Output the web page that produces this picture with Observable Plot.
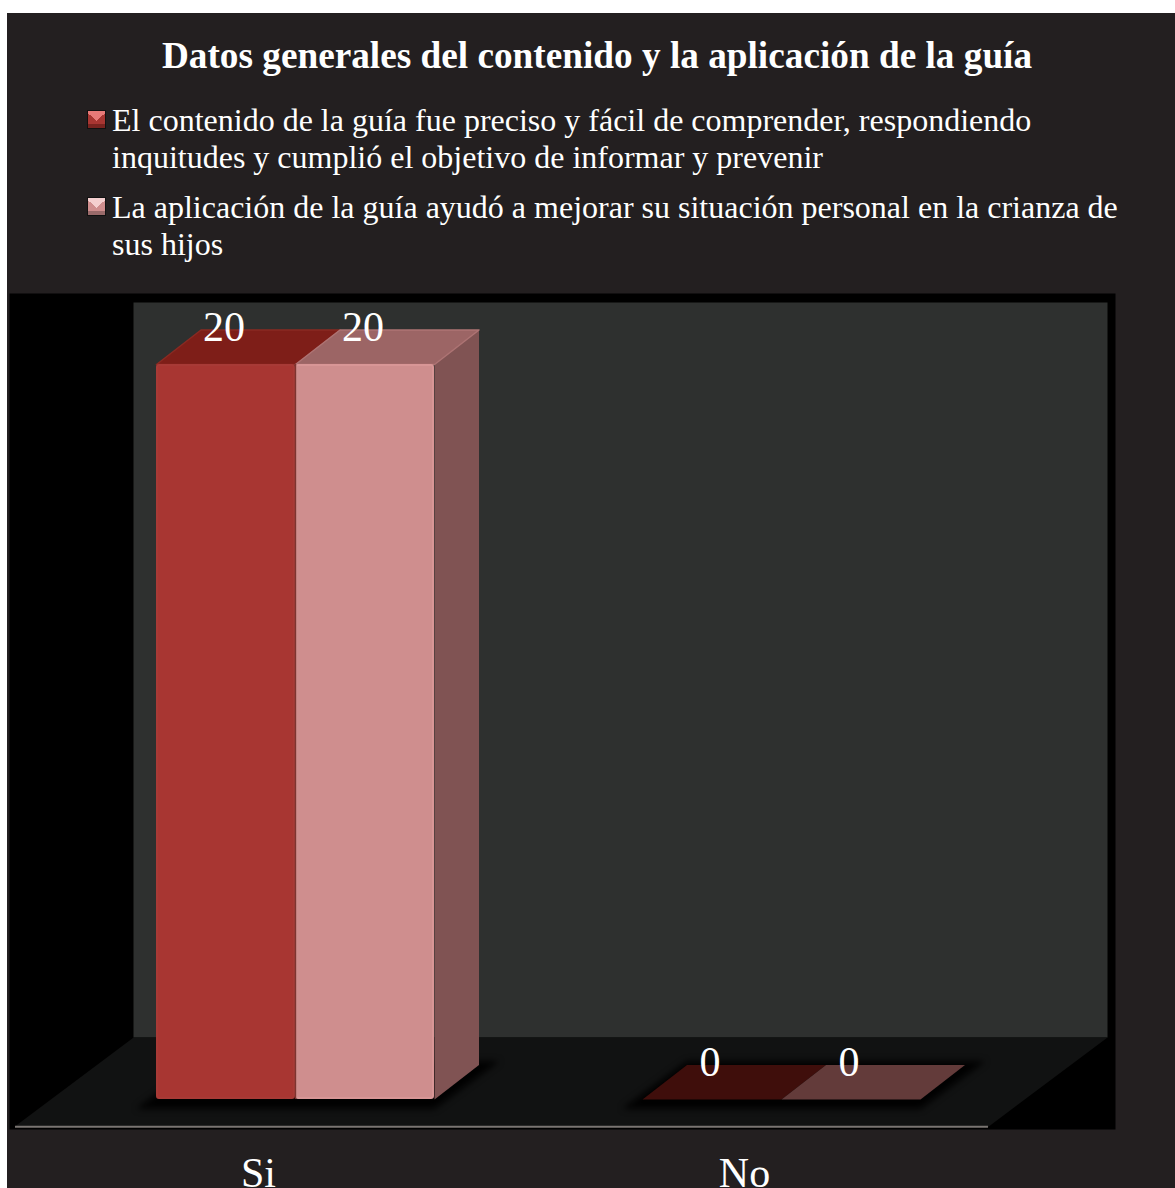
<!DOCTYPE html>
<html lang="es">
<head>
<meta charset="utf-8">
<script src="https://cdn.jsdelivr.net/npm/d3@7"></script>
<script src="https://cdn.jsdelivr.net/npm/@observablehq/plot@0.6"></script>
<style>
html,body{margin:0;padding:0;background:#fff;overflow:hidden;width:1175px;height:1188px}
#panel{position:absolute;left:7px;top:13px;width:1168px;height:1175px;background:#231f20;overflow:hidden;font-family:"Liberation Serif",serif;color:#fff}
#title{position:absolute;left:0;width:1180px;top:20px;text-align:center;font-weight:bold;font-size:37.25px;line-height:46px;white-space:nowrap}
.leg{position:absolute;left:105px;width:1030px;font-size:32px;line-height:37px}
.sw{position:absolute;width:17px;height:17px;left:-25px;top:8px;border:1px solid #111}
#chart{position:absolute;left:0;top:280px}
#chart svg{display:block;overflow:hidden}
</style>
</head>
<body>
<div id="panel">
  <div id="title"></div>
  <div id="legend"></div>
  <div id="chart"></div>
</div>
<script>
const titleText = "Datos generales del contenido y la aplicación de la guía";
const categories = ["Si", "No"];
const seriesNames = [
  "El contenido de la guía fue preciso y fácil de comprender, respondiendo inquitudes y cumplió el objetivo de informar y prevenir",
  "La aplicación de la guía ayudó a mejorar su situación personal en la crianza de sus hijos"
];
const seriesContenido = [20, 0];
const seriesAplicacion = [20, 0];
const seriesValues = [seriesContenido, seriesAplicacion];

const frontColors = ["#a83632", "#cf8e8e"];
const edgeColors = ["#a83a36", "#d89696"];
const topColors = ["#7e1e18", "#9c6565"];
const topEdgeColors = ["#8a2a22", "#ae7474"];
const sideColors = ["#6b1d18", "#805353"];
const plateColors = ["#3f0e0b", "#633b3a"];
const swatchLight = ["#e87a78", "#f4cfcf"];
const swatchDark = ["#7a2420", "#9a6a6a"];

document.getElementById("title").textContent = titleText;
const legendTops = [89, 176];
document.getElementById("legend").innerHTML = seriesNames.map((s, i) => {
  const a = swatchLight[i], b = frontColors[i], c = swatchDark[i];
  return `<div class="leg" style="top:${legendTops[i]}px"><span class="sw" style="background:linear-gradient(transparent 76%,${c} 76%),conic-gradient(from -48deg at 50% 58%,${a} 0 96deg,${b} 96deg 360deg)"></span>${s}</div>`;
}).join("");

// horizontal units: distance between the two category labels = 1
const unitX = 486, unitY = 36.75;
const barW = 139 / unitX, offs = 37 / unitX, depthX = 44.5 / unitX, depthY = 34.5 / unitY;
const rows = categories.flatMap((c, ci) => seriesValues.map((vals, si) => {
  const x1 = ci + offs + (si - 1) * barW;
  return {cat: c, si, v: vals[ci], x1, x2: x1 + barW};
}));
const poly = (id, fill, pts, stroke) => pts.concat([pts[0]]).map(([x, y]) => ({id, fill, stroke, x, y}));
const pad = 20 / unitX;
const shadows = rows.filter(r => r.si === 0).flatMap(r => {
  const right = r.x1 + 2 * barW;
  return poly("s" + r.cat, "#000", [[r.x1 - pad, -0.25], [right, -0.25], [right + depthX + pad, depthY + 0.1], [r.x1 + depthX, depthY + 0.1]]);
});
const lastSeries = seriesValues.length - 1;
const sides = rows.filter(r => r.v > 0 && r.si === lastSeries).flatMap(r => poly("side" + r.cat + r.si, sideColors[r.si],
  [[r.x2, 0], [r.x2 + depthX, depthY], [r.x2 + depthX, r.v + depthY], [r.x2, r.v]]));
const tops = rows.filter(r => r.v > 0).flatMap(r => poly("top" + r.cat + r.si, topColors[r.si],
  [[r.x1, r.v], [r.x2, r.v], [r.x2 + depthX, r.v + depthY], [r.x1 + depthX, r.v + depthY]], topEdgeColors[r.si]));
const plates = rows.filter(r => r.v === 0).flatMap(r => poly("plate" + r.cat + r.si, plateColors[r.si],
  [[r.x1, r.v], [r.x2, r.v], [r.x2 + depthX, r.v + depthY], [r.x1 + depthX, r.v + depthY]]));
const floorBack = 1.69, floorFront = -0.74;
const floor = poly("floor", "#111212", [[-0.257, floorBack], [1.747, floorBack], [1.502, floorFront], [-0.502, floorFront]]);
const bars = rows.filter(r => r.v > 0);
const seams = bars.filter(r => r.si === 0);

const chart = Plot.plot({
  width: 1168, height: 895,
  marginLeft: 2, marginRight: 60, marginTop: 0, marginBottom: 59,
  style: {background: "transparent", fontFamily: "'Liberation Serif',serif", overflow: "hidden"},
  x: {domain: [0, 1], range: [251, 737], axis: null},
  y: {domain: [0, 20], range: [806, 71], axis: null},
  color: {type: "identity"},
  marks: [
    Plot.frame({fill: "#000", stroke: "none"}),
    Plot.frame({fill: "#2e302f", stroke: "none", insetLeft: 124, insetRight: 8, insetTop: 9, insetBottom: 92}),
    Plot.line(floor, {x: "x", y: "y", z: "id", fill: "fill", stroke: "none"}),
    Plot.ruleY([floorFront], {x1: -0.5, x2: 1.502, stroke: "#7a7572", strokeWidth: 2}),
    Plot.line(shadows, {x: "x", y: "y", z: "id", fill: "#010101", stroke: "none"}),
    Plot.line(plates, {x: "x", y: "y", z: "id", fill: "fill", stroke: "none"}),
    Plot.line(sides, {x: "x", y: "y", z: "id", fill: "fill", stroke: "none"}),
    Plot.line(tops, {x: "x", y: "y", z: "id", fill: "fill", stroke: "stroke", strokeWidth: 1.5, strokeLinejoin: "round"}),
    Plot.rectY(bars, {x1: "x1", x2: "x2", y1: 0, y2: "v", fill: d => frontColors[d.si], stroke: d => edgeColors[d.si], strokeWidth: 2, inset: 1, r: 2}),
    Plot.ruleX(seams, {x: "x2", y1: 0, y2: "v", stroke: "#7d3430", strokeWidth: 1.5}),
    Plot.text(rows, {x: d => (d.x1 + d.x2) / 2, y: "v", text: d => String(d.v), fill: "#fff", fontSize: 42, lineAnchor: "bottom", dy: -24, dx: -2}),
    Plot.axisX({ticks: [0, 1], tickFormat: i => categories[i], tickSize: 0, tickPadding: 28, fontSize: 42, fill: "#fff", label: null, anchor: "bottom"})
  ]
});
document.getElementById("chart").append(chart);
chart.querySelectorAll('g[fill="#010101"]').forEach(g => { g.style.filter = "blur(3px)"; });
</script>
</body>
</html>
